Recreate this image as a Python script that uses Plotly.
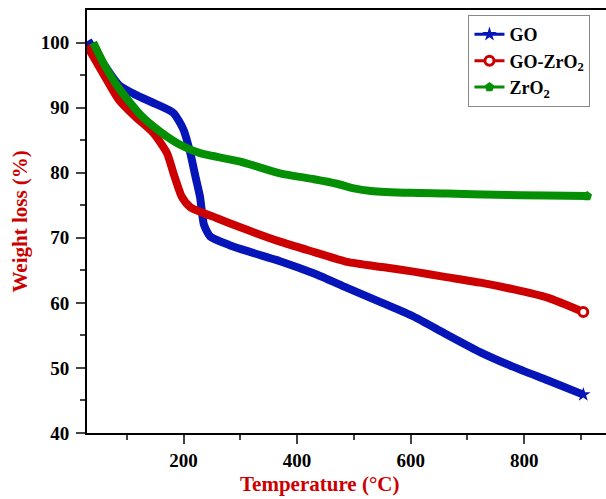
import plotly.graph_objects as go

# Thermogravimetric curves: temperature (°C) vs remaining weight (%)
go_temp = [32, 60, 86, 115, 150, 182, 200, 212, 221, 229, 236, 247, 280, 318, 370, 430, 488, 550, 605, 660, 723, 780, 841, 904]
go_weight = [100.3, 96.6, 93.5, 92.0, 90.6, 89.2, 86.6, 83.0, 79.4, 76.3, 72.0, 70.2, 68.9, 67.8, 66.4, 64.5, 62.3, 60.0, 57.9, 55.3, 52.4, 50.2, 48.1, 45.9]

gozr_temp = [30, 58, 86, 115, 147, 171, 182, 197, 212, 259, 300, 370, 430, 488, 550, 605, 660, 723, 780, 841, 904]
gozr_weight = [99.5, 95.3, 91.2, 88.6, 86.1, 83.0, 80.0, 76.3, 74.7, 73.0, 71.6, 69.4, 67.8, 66.3, 65.5, 64.8, 64.0, 63.1, 62.1, 60.8, 58.6]

zr_temp = [41, 58, 86, 124, 159, 194, 229, 300, 370, 430, 470, 500, 530, 600, 665, 750, 840, 911]
zr_weight = [100.0, 97.0, 93.0, 88.9, 86.3, 84.3, 83.0, 81.7, 79.9, 79.0, 78.3, 77.6, 77.2, 76.9, 76.8, 76.6, 76.5, 76.4]

x_ticks = [200, 400, 600, 800]
y_ticks = [40, 50, 60, 70, 80, 90, 100]

series = [
    ("GO", go_temp, go_weight, "#0615b8", dict(symbol="star", size=11, color="#0615b8")),
    ("GO-ZrO<sub>2</sub>", gozr_temp, gozr_weight, "#cc0000",
     dict(symbol="circle", size=9, color="white", line=dict(color="#cc0000", width=3))),
    ("ZrO<sub>2</sub>", zr_temp, zr_weight, "#058f05", dict(symbol="pentagon", size=10, color="#058f05")),
]

fig = go.Figure()
for name, t, w, color, marker in series:
    fig.add_trace(go.Scatter(
        x=t, y=w, mode="lines", showlegend=False,
        line=dict(color=color, width=8, shape="spline", smoothing=0.6),
        hoverinfo="skip",
    ))
for name, t, w, color, marker in series:
    # end-point marker, also used as the legend sample
    fig.add_trace(go.Scatter(
        x=t[-1:], y=w[-1:], mode="lines+markers", name=name,
        line=dict(color=color, width=3), marker=marker,
    ))

axis_font = dict(family="Liberation Serif", size=19, color="black", weight="bold")

fig.update_layout(
    width=606, height=499,
    margin=dict(l=87, r=0, t=10, b=66),
    plot_bgcolor="white", paper_bgcolor="white",
    showlegend=True,
    legend=dict(
        x=0.735, y=0.988, xanchor="left", yanchor="top",
        bordercolor="#888888", borderwidth=1, bgcolor="white",
        font=dict(family="Liberation Serif", size=18, color="black", weight="bold"),
        tracegroupgap=0, itemwidth=30,
    ),
    xaxis=dict(
        range=[30, 944], tickvals=x_ticks, ticks="outside", ticklen=9, tickwidth=1.5,
        showline=True, linecolor="black", linewidth=2, mirror=True,
        showgrid=False, zeroline=False, tickfont=axis_font,
        minor=dict(tickvals=[100, 300, 500, 700, 900], ticks="outside", ticklen=5, tickwidth=1.5),
    ),
    yaxis=dict(
        range=[40, 105], tickvals=y_ticks, ticks="outside", ticklen=9, tickwidth=1.5,
        showline=True, linecolor="black", linewidth=2,
        showgrid=False, zeroline=False, tickfont=axis_font, ticklabelstandoff=3,
        minor=dict(tickvals=[45, 55, 65, 75, 85, 95], ticks="outside", ticklen=5, tickwidth=1.5),
    ),
    annotations=[
        dict(text="Temperature (°C)", xref="paper", yref="paper", x=(319 - 87) / 519, y=-0.12,
             xanchor="center", yanchor="middle", showarrow=False,
             font=dict(family="Liberation Serif", size=21, color="#cc0000", weight="bold")),
        dict(text="Weight loss (%)", xref="paper", yref="paper", x=(19 - 87) / 519, y=0.5,
             xanchor="center", yanchor="middle", showarrow=False, textangle=-90,
             font=dict(family="Liberation Serif", size=21, color="#cc0000", weight="bold")),
    ],
)

fig.write_html("out.html")
